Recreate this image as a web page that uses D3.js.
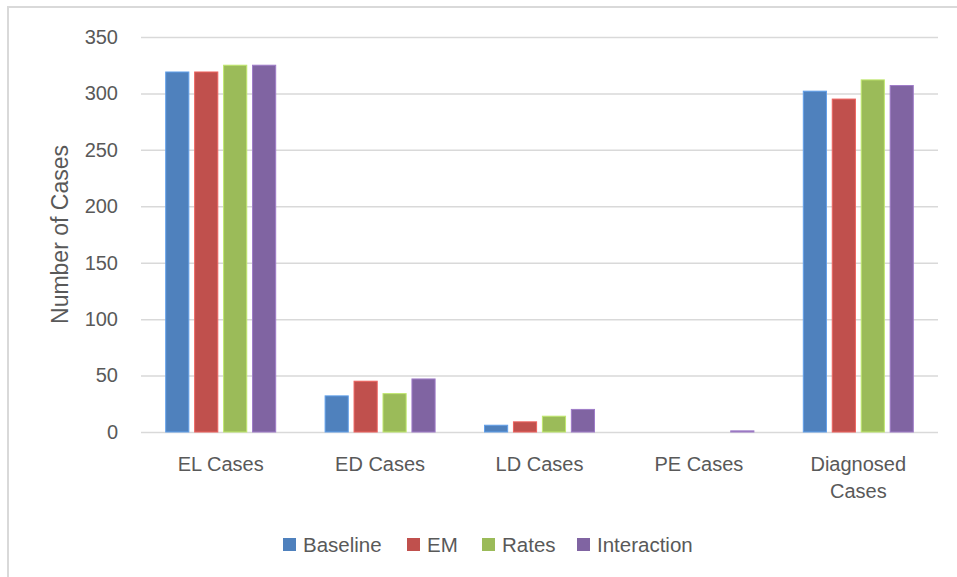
<!DOCTYPE html>
<html>
<head>
<meta charset="utf-8">
<script src="https://cdn.jsdelivr.net/npm/d3@7"></script>
<style>
  html, body { margin: 0; padding: 0; background: #fff; }
  svg { display: block; font-family: "Liberation Sans", Arial, sans-serif; }
</style>
</head>
<body>
<svg id="chart" width="957" height="577"></svg>
<script>
// Case counts per scenario
const categories = ["EL Cases", "ED Cases", "LD Cases", "PE Cases", "Diagnosed Cases"];
const seriesNames = ["Baseline", "EM", "Rates", "Interaction"];
const baseline    = [319, 32, 6, 0, 302];
const em          = [319, 45, 9, 0, 295];
const rates       = [325, 34, 14, 0, 312];
const interaction = [325, 47, 20, 1, 307];
const yTicks = [0, 50, 100, 150, 200, 250, 300, 350];
const colors = ["#4f81bd", "#c0504d", "#9bbb59", "#8064a2"];

const seriesValues = [baseline, em, rates, interaction];

const svg = d3.select("#chart");
const textColor = "#595959";
const gridColor = "#d9d9d9";

// outer chart frame
svg.append("rect")
  .attr("x", 8).attr("y", 7)
  .attr("width", 960).attr("height", 580)
  .attr("fill", "none").attr("stroke", gridColor).attr("stroke-width", 2);

const plot = { left: 141, right: 938, top: 37, bottom: 432 };

const x0 = d3.scaleBand().domain(categories).range([plot.left, plot.right]).padding(0);
const groupWidth = 110;
const x1 = d3.scaleBand().domain(seriesNames).range([0, groupWidth]).paddingInner(0.2).paddingOuter(0);
const y = d3.scaleLinear().domain([0, 350]).range([plot.bottom, plot.top]);

// horizontal gridlines + tick labels
const yAxis = d3.axisLeft(y).tickValues(yTicks).tickSize(-(plot.right - plot.left)).tickPadding(23);
const gy = svg.append("g").attr("transform", `translate(${plot.left},0)`).call(yAxis);
gy.select(".domain").remove();
gy.selectAll(".tick line").attr("stroke", gridColor).attr("stroke-width", 1.5);
gy.selectAll(".tick text")
  .attr("fill", textColor).attr("font-size", 20)
  .attr("font-family", "'Liberation Sans', Arial, sans-serif");

// bars
const groups = svg.append("g").selectAll("g")
  .data(categories)
  .join("g")
  .attr("transform", d => `translate(${x0(d) + x0.bandwidth() / 2 - groupWidth / 2},0)`);

groups.selectAll("rect")
  .data((c, ci) => seriesNames.map((s, si) => ({ s, si, v: seriesValues[si][ci] })))
  .join("rect")
  .attr("x", d => x1(d.s))
  .attr("y", d => y(d.v))
  .attr("width", x1.bandwidth())
  .attr("height", d => y(0) - y(d.v))
  .attr("fill", d => colors[d.si])
  .attr("stroke", d => d3.color(colors[d.si]).brighter(0.6))
  .attr("stroke-width", d => d.v > 0 ? 1 : 0);

// category labels (wrap "Diagnosed Cases")
const xLabels = svg.append("g");
categories.forEach(c => {
  const cx = x0(c) + x0.bandwidth() / 2;
  const lines = c === "Diagnosed Cases" ? ["Diagnosed", "Cases"] : [c];
  const t = xLabels.append("text")
    .attr("x", cx).attr("y", 471)
    .attr("text-anchor", "middle")
    .attr("fill", textColor).attr("font-size", 20);
  lines.forEach((ln, i) => {
    t.append("tspan").attr("x", cx).attr("dy", i === 0 ? 0 : 27).text(ln);
  });
});

// y-axis title
svg.append("text")
  .attr("transform", `translate(68,${(plot.top + plot.bottom) / 2}) rotate(-90)`)
  .attr("text-anchor", "middle")
  .attr("fill", textColor).attr("font-size", 23)
  .text("Number of Cases");

// legend
const legendX = [283, 407, 482, 577];
const legend = svg.append("g");
seriesNames.forEach((s, i) => {
  legend.append("rect")
    .attr("x", legendX[i]).attr("y", 538)
    .attr("width", 13).attr("height", 13)
    .attr("fill", colors[i]);
  legend.append("text")
    .attr("x", legendX[i] + 20).attr("y", 552)
    .attr("fill", textColor).attr("font-size", 20.5)
    .text(s);
});
</script>
</body>
</html>
